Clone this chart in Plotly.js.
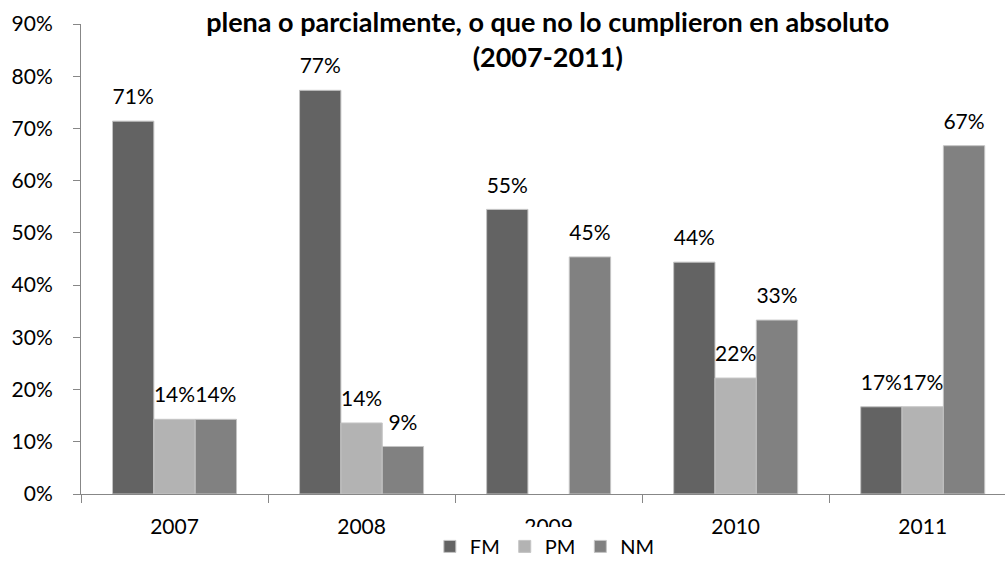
<!DOCTYPE html>
<html>
<head>
<meta charset="utf-8">
<script src="https://cdn.plot.ly/plotly-3.0.1.min.js"></script>
<style>html,body{margin:0;padding:0;background:#fff}#chart{width:1005px;height:566px}</style>
</head>
<body>
<div id="chart"></div>
<script>
var years = ['2007', '2008', '2009', '2010', '2011'];
var seriesNames = ['FM', 'PM', 'NM'];
var fmValues = [0.714, 0.773, 0.545, 0.444, 0.167];
var pmValues = [0.143, 0.136, null, 0.222, 0.167];
var nmValues = [0.143, 0.091, 0.454, 0.333, 0.667];
var yTickValues = [0, 0.1, 0.2, 0.3, 0.4, 0.5, 0.6, 0.7, 0.8, 0.9];
var titleText = 'plena o parcialmente, o que no lo cumplieron en absoluto<br>(2007-2011)';

var colors = ['#636363', '#b3b3b3', '#818181'];
var allValues = [fmValues, pmValues, nmValues];
var FONT = 'Lato, "Open Sans", sans-serif';

var data = [];
allValues.forEach(function (vals, i) {
  data.push({
    type: 'bar', name: seriesNames[i], x: years, y: vals,
    marker: {color: colors[i], line: {color: '#c4c4c4', width: 1}},
    hoverinfo: 'skip'
  });
});
allValues.forEach(function (vals, i) {
  data.push({
    type: 'scatter', mode: 'markers+text', x: years, y: vals,
    showlegend: false, hoverinfo: 'skip', cliponaxis: false,
    marker: {size: 17, opacity: 0},
    texttemplate: '%{y:.0%}', textposition: 'top center',
    textfont: {family: FONT, size: 21, color: '#000'}
  });
});

var layout = {
  width: 1005, height: 566,
  margin: {l: 81, r: 0, t: 24, b: 67},
  paper_bgcolor: '#fff', plot_bgcolor: '#fff',
  barmode: 'group', bargap: 0.337, bargroupgap: 0,
  scattermode: 'group', scattergap: 0.337,
  font: {family: FONT, size: 21, color: '#000'},
  title: {
    text: titleText, font: {family: FONT, size: 27, color: '#000', weight: 'bold'},
    x: 0.545, xanchor: 'center', y: 0.944, yanchor: 'top'
  },
  xaxis: {
    type: 'category', range: [-0.5, 4.44],
    showline: true, linecolor: '#878787', linewidth: 1,
    ticks: 'outside', tickson: 'boundaries', ticklen: 8, tickcolor: '#878787',
    showgrid: false, zeroline: false, ticklabelstandoff: 14,
    tickfont: {family: FONT, size: 21, color: '#000'}
  },
  yaxis: {
    range: [0, 0.9], tickvals: yTickValues, tickformat: '.0%',
    showline: true, linecolor: '#878787', linewidth: 1,
    ticks: 'outside', ticklen: 7, tickcolor: '#878787',
    showgrid: false, zeroline: false, ticklabelstandoff: 16,
    tickfont: {family: FONT, size: 21, color: '#000'}
  },
  legend: {
    orientation: 'h', x: 0.502, xanchor: 'center', y: -0.07, yanchor: 'top',
    bgcolor: '#fff', font: {family: FONT, size: 20, color: '#000'},
    itemwidth: 30, tracegroupgap: 0
  },
  showlegend: true
};

Plotly.newPlot('chart', data, layout, {displayModeBar: false, staticPlot: true});
</script>
</body>
</html>
